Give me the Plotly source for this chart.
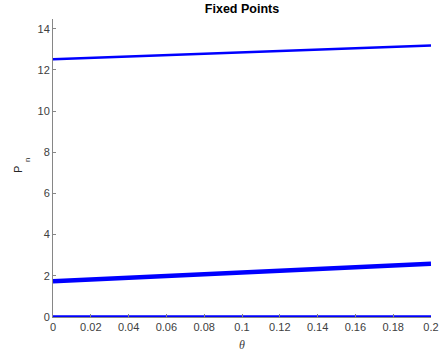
import plotly.graph_objects as go

theta = [0.0, 0.1, 0.2]
p_upper = [12.52, 12.84, 13.18]
p_middle = [1.74, 2.14, 2.58]
p_zero = [0.0, 0.0, 0.0]

x_ticks = [0, 0.02, 0.04, 0.06, 0.08, 0.1, 0.12, 0.14, 0.16, 0.18, 0.2]
x_ticktext = ["0", "0.02", "0.04", "0.06", "0.08", "0.1", "0.12", "0.14", "0.16", "0.18", "0.2"]
y_ticks = [0, 2, 4, 6, 8, 10, 12, 14]

W, H = 441, 356
L, R, T, B = 53, 10, 19, 39
pw, ph = W - L - R, H - T - B

def px_x(p):
    return (p - L) / pw

def px_y(p):
    return (H - B - p) / ph

blue = "#0000ff"
font_sans = "Liberation Sans, Arial, sans-serif"
fig = go.Figure()
fig.add_trace(go.Scatter(x=theta, y=p_upper, mode="lines", line=dict(color=blue, width=2.5), showlegend=False))
fig.add_trace(go.Scatter(x=theta, y=p_middle, mode="lines", line=dict(color=blue, width=4.5), showlegend=False))
fig.add_trace(go.Scatter(x=theta, y=p_zero, mode="lines", line=dict(color=blue, width=3.5), showlegend=False, cliponaxis=False))

axis_common = dict(
    showgrid=False, zeroline=False, showline=True, linecolor="#868686", linewidth=1,
    ticks="inside", ticklen=3, tickcolor="#868686", automargin=False,
    tickfont=dict(family=font_sans, size=11, color="#404040"),
)
fig.update_layout(
    width=W, height=H,
    margin=dict(l=L, r=R, t=T, b=B),
    paper_bgcolor="white", plot_bgcolor="white",
    title=dict(text="<b>Fixed Points</b>", x=0.5, xanchor="center", xref="paper",
               yref="container", y=1 - 8.5 / H, yanchor="middle",
               font=dict(family=font_sans, size=12.5, color="#000000")),
    xaxis=dict(range=[0, 0.2], tickvals=x_ticks, ticktext=x_ticktext,
               title=dict(text="<i>θ</i>", standoff=8,
                          font=dict(family="Liberation Serif, Times New Roman, serif", size=12, color="#404040")),
               **axis_common),
    yaxis=dict(range=[0, 14.47], tickvals=y_ticks, **axis_common),
    annotations=[
        dict(text="P", xref="paper", yref="paper", x=px_x(18), y=px_y(170), textangle=-90,
             showarrow=False, xanchor="center", yanchor="middle",
             font=dict(family=font_sans, size=11, color="#262626")),
        dict(text="n", xref="paper", yref="paper", x=px_x(27.5), y=px_y(160.5), textangle=-90,
             showarrow=False, xanchor="center", yanchor="middle",
             font=dict(family=font_sans, size=8, color="#262626")),
    ],
)
fig.write_html("out.html")
